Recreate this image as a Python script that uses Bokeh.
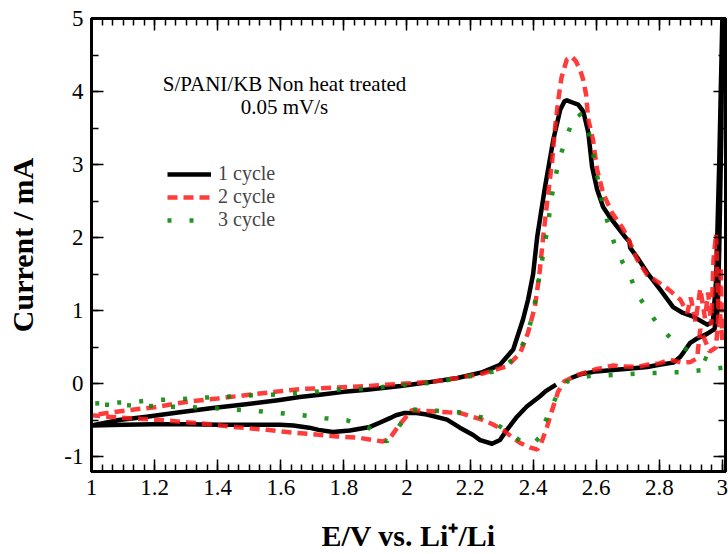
import numpy as np
from bokeh.plotting import figure
from bokeh.models import (LinearAxis, FixedTicker, Label, Legend, LegendItem,
                          Range1d, ColumnDataSource)
from bokeh.embed import file_html
from bokeh.resources import INLINE

# ---------------- data ----------------
# Cycle 1: starts at OCV (~2.47 V), sweeps down to 1.0 V, up to 3.0 V, back to ~2.52 V
cycle1_v = [2.473, 2.44, 2.422, 2.38, 2.349, 2.317, 2.295, 2.27, 2.232, 2.21, 2.168,
            2.127, 2.063, 2.03, 1.99, 1.965, 1.946, 1.915, 1.883, 1.819, 1.765, 1.72,
            1.69, 1.64, 1.597, 1.5, 1.406, 1.3, 1.2, 1.1, 1.0,
            1.0, 1.08, 1.175, 1.28, 1.384, 1.49, 1.597, 1.66, 1.724, 1.80, 1.873,
            1.98, 2.083, 2.16, 2.24, 2.295, 2.337, 2.368, 2.384, 2.40, 2.413, 2.438,
            2.464, 2.486, 2.50, 2.507, 2.525, 2.543, 2.559, 2.575, 2.587, 2.603, 2.622,
            2.645, 2.667, 2.69, 2.70, 2.705, 2.708, 2.735, 2.762, 2.803, 2.844, 2.875,
            2.908, 2.952, 2.97, 2.98, 2.99, 3.0,
            2.997, 2.99, 2.985, 2.975, 2.95, 2.92, 2.898, 2.88, 2.867, 2.844, 2.80,
            2.762, 2.71, 2.654, 2.60, 2.55, 2.52]
cycle1_i = [-0.01, -0.10, -0.17, -0.31, -0.45, -0.63, -0.77, -0.82, -0.77, -0.70, -0.60,
            -0.49, -0.42, -0.40, -0.40, -0.43, -0.47, -0.53, -0.59, -0.64, -0.66, -0.63,
            -0.60, -0.57, -0.56, -0.56, -0.56, -0.555, -0.555, -0.56, -0.57,
            -0.57, -0.50, -0.45, -0.39, -0.33, -0.28, -0.22, -0.18, -0.15, -0.11, -0.08,
            -0.03, 0.03, 0.08, 0.16, 0.26, 0.47, 0.88, 1.15, 1.50, 2.01, 2.70,
            3.34, 3.75, 3.87, 3.88, 3.85, 3.82, 3.73, 3.44, 2.97, 2.66, 2.42,
            2.27, 2.15, 2.02, 1.97, 1.95, 1.86, 1.70, 1.52, 1.29, 1.05, 0.97,
            0.92, 0.81, 0.85, 1.40, 3.00, 5.00,
            3.50, 1.80, 1.00, 0.75, 0.68, 0.62, 0.56, 0.45, 0.37, 0.29, 0.26,
            0.23, 0.21, 0.19, 0.17, 0.13, 0.08]

# Cycle 2: from 3.0 V down to 1.0 V and back up to 3.0 V
cycle2_v = [3.0, 2.99, 2.98, 2.96, 2.93, 2.92, 2.90, 2.87, 2.835, 2.80, 2.76, 2.73,
            2.68, 2.654, 2.60, 2.54, 2.498, 2.479, 2.464, 2.444, 2.425, 2.413, 2.39,
            2.359, 2.33, 2.305, 2.27, 2.238, 2.20, 2.17, 2.13, 2.095, 2.05, 2.015,
            1.99, 1.968, 1.945, 1.924, 1.85, 1.777, 1.70, 1.62, 1.556, 1.45, 1.343,
            1.23, 1.12, 1.05, 1.0,
            1.0, 1.05, 1.12, 1.2, 1.311, 1.40, 1.5, 1.6, 1.67, 1.78, 1.873, 1.98,
            2.083, 2.16, 2.24, 2.317, 2.359, 2.384, 2.406, 2.42, 2.432, 2.448, 2.46,
            2.47, 2.48, 2.49, 2.507, 2.522, 2.535, 2.549, 2.559, 2.568, 2.575, 2.59,
            2.603, 2.622, 2.65, 2.683, 2.70, 2.73, 2.762, 2.794, 2.83, 2.867, 2.889,
            2.90, 2.915, 2.93, 2.945, 2.955, 2.965, 2.972, 2.98, 2.985, 2.99, 2.995,
            3.0]
cycle2_i = [0.60, 1.10, 0.50, 0.44, 0.75, 0.35, 0.30, 0.29, 0.33, 0.28, 0.26, 0.23,
            0.24, 0.25, 0.20, 0.12, 0.03, -0.11, -0.31, -0.59, -0.82, -0.90, -0.87,
            -0.81, -0.72, -0.63, -0.55, -0.49, -0.44, -0.40, -0.39, -0.38, -0.37, -0.36,
            -0.49, -0.61, -0.75, -0.79, -0.74, -0.72, -0.69, -0.66, -0.63, -0.59, -0.54,
            -0.50, -0.47, -0.45, -0.43,
            -0.43, -0.40, -0.36, -0.32, -0.24, -0.20, -0.15, -0.10, -0.07, -0.05, -0.03, 0.0,
            0.03, 0.08, 0.14, 0.24, 0.42, 0.70, 1.06, 1.50, 2.01, 2.61, 3.03,
            3.52, 3.89, 4.19, 4.44, 4.48, 4.42, 4.30, 4.16, 3.96, 3.62, 3.34,
            2.93, 2.61, 2.34, 2.14, 2.00, 1.70, 1.49, 1.40, 1.29, 1.15, 0.97,
            1.18, 0.85, 1.30, 0.90, 1.25, 0.80, 1.70, 2.05, 1.30, 0.75, 1.60,
            0.60]

# Cycle 3: from 3.0 V down to 1.0 V and back up to 3.0 V
cycle3_v = [3.0, 2.943, 2.87, 2.797, 2.727, 2.654, 2.584, 2.54, 2.508, 2.473, 2.444,
            2.419, 2.40, 2.365, 2.335, 2.305, 2.27, 2.238, 2.20, 2.165, 2.095, 2.019,
            1.978, 1.955, 1.936, 1.876, 1.81, 1.74, 1.667, 1.597, 1.52, 1.448, 1.38,
            1.305, 1.23, 1.162, 1.089, 1.0,
            1.0, 1.063, 1.13, 1.206, 1.28, 1.349, 1.422, 1.49, 1.565, 1.64, 1.708,
            1.78, 1.857, 1.93, 2.0, 2.067, 2.14, 2.21, 2.286, 2.349, 2.38, 2.40, 2.425,
            2.448, 2.457, 2.47, 2.486, 2.51, 2.525, 2.543, 2.56, 2.575, 2.59, 2.603,
            2.616, 2.635, 2.657, 2.683, 2.705, 2.727, 2.765, 2.806, 2.86, 2.927, 3.0]
cycle3_i = [0.22, 0.19, 0.16, 0.15, 0.14, 0.12, 0.11, 0.08, 0.03, -0.18, -0.46,
            -0.74, -0.82, -0.80, -0.70, -0.61, -0.52, -0.46, -0.42, -0.39, -0.37, -0.35,
            -0.56, -0.70, -0.79, -0.59, -0.50, -0.47, -0.43, -0.40, -0.37, -0.35, -0.33,
            -0.32, -0.31, -0.30, -0.29, -0.28,
            -0.27, -0.26, -0.25, -0.22, -0.21, -0.19, -0.18, -0.16, -0.15, -0.13, -0.11,
            -0.08, -0.07, -0.04, -0.01, 0.01, 0.06, 0.11, 0.18, 0.37, 0.66, 0.96, 1.60,
            2.20, 2.51, 2.82, 3.12, 3.42, 3.60, 3.71, 3.62, 3.47, 3.16, 2.85,
            2.55, 2.23, 1.93, 1.67, 1.51, 1.25, 1.00, 0.75, 0.53, 0.38, 0.25]

series_labels = ["1 cycle", "2 cycle", "3 cycle"]

xticks = [1.0, 1.2, 1.4, 1.6, 1.8, 2.0, 2.2, 2.4, 2.6, 2.8, 3.0]
xtick_labels = ["1", "1.2", "1.4", "1.6", "1.8", "2", "2.2", "2.4", "2.6", "2.8", "3"]
yticks = [-1, 0, 1, 2, 3, 4, 5]
ytick_labels = ["-1", "0", "1", "2", "3", "4", "5"]

title_line1 = "S/PANI/KB Non heat treated"
title_line2 = "0.05 mV/s"
x_title = "E/V vs. Li\u207a/Li"
y_title = "Current / mA"

# ---------------- figure ----------------
FONT = "'Liberation Serif', 'Times New Roman', serif"

p = figure(width=728, height=554, output_backend="svg", toolbar_location=None,
           x_range=Range1d(1.0, 3.01), y_range=Range1d(-1.2, 5.0),
           min_border_left=91, min_border_right=3, min_border_top=18,
           min_border_bottom=82, background_fill_color="white",
           border_fill_color="white")
p.xgrid.visible = False
p.ygrid.visible = False
p.outline_line_color = "black"
p.outline_line_width = 3

xminor = [round(v, 6) for v in np.arange(1.0, 3.0001, 0.2 / 6)]
yminor = [round(v, 6) for v in np.arange(-1.0, 5.0001, 0.5)]
xticker = FixedTicker(ticks=xticks, minor_ticks=xminor)
yticker = FixedTicker(ticks=yticks, minor_ticks=yminor)


def style_axis(ax, show_labels):
    ax.axis_line_width = 3
    ax.axis_line_color = "black"
    ax.major_tick_in = 12
    ax.major_tick_out = 0
    ax.minor_tick_in = 7
    ax.minor_tick_out = 0
    ax.major_tick_line_width = 1.5
    ax.minor_tick_line_width = 1.5
    ax.major_tick_line_color = "black"
    ax.minor_tick_line_color = "black"
    if show_labels:
        ax.major_label_text_font = FONT
        ax.major_label_text_font_size = "23px"
        ax.major_label_text_color = "black"
        ax.major_label_standoff = 8
    else:
        ax.major_label_text_font_size = "1px"
        ax.major_label_text_color = None
        ax.major_label_standoff = 0


p.xaxis.ticker = xticker
p.yaxis.ticker = yticker
p.xaxis.major_label_overrides = dict(zip(xticks, xtick_labels))
p.yaxis.major_label_overrides = dict(zip(yticks, ytick_labels))
for ax in p.xaxis + p.yaxis:
    style_axis(ax, True)
    ax.axis_label_text_font = FONT
    ax.axis_label_text_font_size = "30px"
    ax.axis_label_text_font_style = "bold"
    ax.axis_label_text_color = "black"
p.xaxis.axis_label = x_title
p.xaxis.axis_label_standoff = 21
p.yaxis.axis_label = y_title
p.yaxis.axis_label_standoff = 22

top_axis = LinearAxis(ticker=xticker)
right_axis = LinearAxis(ticker=yticker)
style_axis(top_axis, False)
style_axis(right_axis, False)
p.add_layout(top_axis, "above")
p.add_layout(right_axis, "right")

# ---------------- curves ----------------
src1 = ColumnDataSource(dict(v=cycle1_v, i=cycle1_i))
src2 = ColumnDataSource(dict(v=cycle2_v, i=cycle2_i))
src3 = ColumnDataSource(dict(v=cycle3_v, i=cycle3_i))

r1 = p.line("v", "i", source=src1, line_color="black", line_width=4.5,
            line_join="round")
r2 = p.line("v", "i", source=src2, line_color="#ff1a1a", line_width=4.5,
            line_dash="10 6", line_alpha=0.85)
r3 = p.line("v", "i", source=src3, line_color="#0a8a0a", line_width=4.5,
            line_dash="4 18", line_alpha=0.9)

legend = Legend(items=[LegendItem(label=series_labels[0], renderers=[r1]),
                       LegendItem(label=series_labels[1], renderers=[r2]),
                       LegendItem(label=series_labels[2], renderers=[r3])],
                location=(76, 240), padding=0, margin=0, spacing=0,
                glyph_width=44, glyph_height=18, label_height=18,
                label_standoff=7, label_text_font=FONT,
                label_text_font_size="20px", border_line_color=None,
                background_fill_alpha=0)
p.add_layout(legend)

# ---------------- annotation text ----------------
p.add_layout(Label(x=1.612, y=4.10, text=title_line1, text_font=FONT,
                   text_font_size="21px", text_align="center",
                   text_baseline="middle", text_color="black"))
p.add_layout(Label(x=1.612, y=3.79, text=title_line2, text_font=FONT,
                   text_font_size="21px", text_align="center",
                   text_baseline="middle", text_color="black"))

open("out.html", "w").write(file_html(p, INLINE))
